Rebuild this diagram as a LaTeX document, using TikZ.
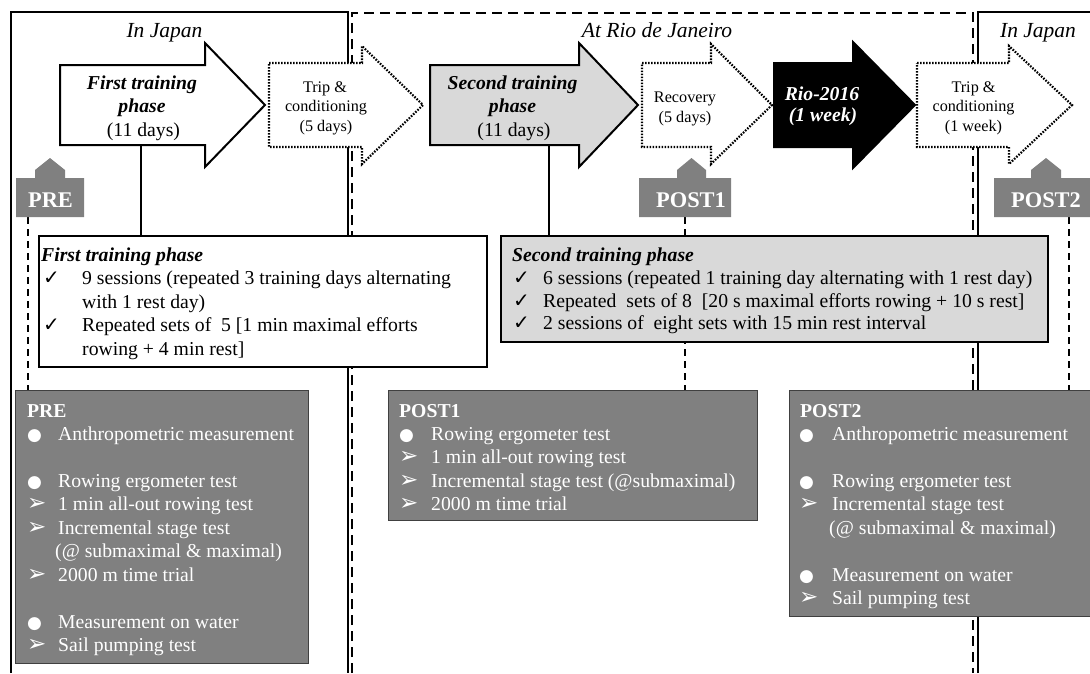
\documentclass[tikz,border=0pt]{standalone}
\usepackage{fontspec}
\setmainfont{Liberation Serif}
\newfontfamily\symfont{DejaVu Sans}
\definecolor{gmid}{HTML}{808080}
\definecolor{glight}{HTML}{D9D9D9}
\definecolor{gdark}{HTML}{404040}
\newcommand\fmain{\fontsize{19.7}{23.5}\selectfont}
\newcommand\fsmall{\fontsize{16.2}{19.5}\selectfont}
\newcommand\fhead{\fontsize{21.5}{25}\selectfont}
\newcommand\fmark{\fontsize{22.4}{25}\selectfont}
\newcommand\chk{{\symfont\fontsize{20}{20}\selectfont ✓}}
\newcommand\dotb{{\symfont\fontsize{17}{17}\selectfont ●}}
\newcommand\arrb{{\symfont\fontsize{23}{23}\selectfont ➢}}
\tikzset{
  frame/.style={line width=2pt},
  dframe/.style={line width=2pt, dash pattern=on 10pt off 6pt},
  conn/.style={line width=1.6pt, dash pattern=on 7pt off 5pt},
  link/.style={line width=1.3pt},
  solidarrow/.style={draw, line width=2pt, line join=miter},
  dotarrow/.style={draw, line width=2.2pt, dash pattern=on 1.6pt off 1.4pt, fill=white},
  wbox/.style={draw, line width=2.2pt, fill=white, inner sep=0pt, outer sep=0pt},
  gbox/.style={draw=gdark, line width=1pt, fill=gmid, inner sep=0pt, outer sep=0pt},
  marker/.style={fill=gmid},
  txt/.style={inner sep=0pt, anchor=base west, font=\fmain},
  gtxt/.style={txt, text=white},
  ctxt/.style={inner sep=0pt, anchor=base, font=\fmain},
  stxt/.style={inner sep=0pt, anchor=base, font=\fsmall},
  htxt/.style={inner sep=0pt, anchor=base, font=\fhead\itshape},
  mtxt/.style={inner sep=0pt, anchor=base, font=\fmark\bfseries, text=white},
}
\begin{document}
\begin{tikzpicture}[x=1pt,y=-1pt]
\useasboundingbox[fill=white] (0,0) rectangle (1090,673);
\begin{scope}
\clip (0,0) rectangle (1090,673);
% frames
\draw[frame] (11,673) -- (11,12) -- (348,12) -- (348,673);
\draw[dframe] (352,673) -- (352,13) -- (973,13) -- (973,673);
\draw[frame] (978,673) -- (978,12) -- (1095,12);
\node[htxt] (hJ1) at (164.5,37) {In Japan};
\node[htxt] (hRio) at (657,37) {At Rio de Janeiro};
\node[htxt] (hJ2) at (1038,37) {In Japan};

% grey boxes (nodes) first so connectors can reference them
\node[gbox, minimum width=293, minimum height=273, anchor=north west] (bPRE) at (15,390) {};
\node[gbox, minimum width=369, minimum height=130, anchor=north west] (bPOST1) at (388,390) {};
\node[gbox, minimum width=320, minimum height=226, anchor=north west] (bPOST2) at (789,390) {};

% dashed connectors from markers to grey boxes
\coordinate (fPRE) at (28,217);
\coordinate (fPOST1) at (685,217);
\coordinate (fPOST2) at (1069,217);
\draw[conn] (fPRE) -- (fPRE |- bPRE.north);
\draw[conn] (fPOST1) -- (fPOST1 |- bPOST1.north);
\draw[conn] (fPOST2) -- (fPOST2 |- bPOST2.north);

% white/grey training boxes
\node[wbox, minimum width=448, minimum height=131, anchor=north west] (box1) at (39,236) {};
\node[wbox, fill=glight, minimum width=547, minimum height=106, anchor=north west] (box2) at (501,236) {};

% solid connectors from arrows to boxes
\coordinate (a1foot) at (141,145);
\coordinate (a2foot) at (549,145);
\draw[link] (a1foot) -- (a1foot |- box1.north);
\draw[link] (a2foot) -- (a2foot |- box2.north);

% block arrows
\draw[solidarrow, fill=white] (60,65) -- (205,65) -- (205,43) -- (265,105) -- (205,167) -- (205,145) -- (60,145) -- cycle;
\draw[dotarrow] (269,63) -- (362,63) -- (362,46) -- (423,105) -- (362,164) -- (362,147) -- (269,147) -- cycle;
\draw[solidarrow, fill=glight] (430,65) -- (579,65) -- (579,43) -- (638,105) -- (579,167) -- (579,145) -- (430,145) -- cycle;
\draw[dotarrow] (642,63) -- (711,63) -- (711,44) -- (772,105) -- (711,164) -- (711,147) -- (642,147) -- cycle;
\draw[solidarrow, fill=black] (774,63) -- (853,63) -- (853,42) -- (915,105) -- (853,168) -- (853,147) -- (774,147) -- cycle;
\draw[dotarrow] (917,63) -- (1009,63) -- (1009,46) -- (1072,105) -- (1009,164) -- (1009,147) -- (917,147) -- cycle;

% arrow texts
\node[ctxt, font=\fmain\bfseries\itshape] (a1l1) at (142,89) {First training};
\node[ctxt, font=\fmain\bfseries\itshape] (a1l2) at (142,112.5) {phase};
\node[ctxt] (a1l3) at (143.5,136) {(11 days)};
\node[stxt] (t1l1) at (325,92) {Trip \&};
\node[stxt] (t1l2) at (326,111.5) {conditioning};
\node[stxt] (t1l3) at (326,131) {(5 days)};
\node[ctxt, font=\fmain\bfseries\itshape] (a2l1) at (512.5,89) {Second training};
\node[ctxt, font=\fmain\bfseries\itshape] (a2l2) at (512.5,112.5) {phase};
\node[ctxt] (a2l3) at (514,136) {(11 days)};
\node[stxt] (rl1) at (685,102) {Recovery};
\node[stxt] (rl2) at (685,122) {(5 days)};
\node[ctxt, font=\fmain\bfseries\itshape, text=white] (riol1) at (822,100) {Rio-2016};
\node[ctxt, font=\fmain\bfseries\itshape, text=white] (riol2) at (823,121.5) {(1 week)};
\node[stxt] (t2l1) at (973.5,92) {Trip \&};
\node[stxt] (t2l2) at (973.5,111.5) {conditioning};
\node[stxt] (t2l3) at (973.5,131) {(1 week)};

% markers
\fill[marker] (16,217) -- (16,178) -- (35,178) -- (35,170) -- (50,158) -- (65,170) -- (65,178) -- (84,178) -- (84,217) -- cycle;
\fill[marker] (639,217) -- (639,178) -- (677,178) -- (677,170) -- (691.5,158) -- (706,170) -- (706,178) -- (731,178) -- (731,217) -- cycle;
\fill[marker] (994,217) -- (994,178) -- (1031,178) -- (1031,170) -- (1046,158) -- (1061,170) -- (1061,178) -- (1095,178) -- (1095,217) -- cycle;
\node[mtxt] (mPRE) at (50.5,207) {PRE};
\node[mtxt] (mPOST1) at (691,207.5) {POST1};
\node[mtxt] (mPOST2) at (1046,207.5) {POST2};

% first training box text
\node[txt, font=\fmain\bfseries\itshape] (b1t) at (41,261) {First training phase};
\node[txt] (b1c1) at (43,284.5) {\chk};
\node[txt] (b1l1) at (82,284.5) {9 sessions (repeated 3 training days alternating};
\node[txt] (b1l2) at (82,308) {with 1 rest day)};
\node[txt] (b1c3) at (43,331.5) {\chk};
\node[txt] (b1l3) at (82,331.5) {Repeated sets of\ \ 5 [1 min maximal efforts};
\node[txt] (b1l4) at (82,355) {rowing + 4 min rest]};

% second training box text
\node[txt, font=\fmain\bfseries\itshape] (b2t) at (512,261) {Second training phase};
\node[txt] (b2c1) at (513,284.5) {\chk};
\node[txt] (b2l1) at (543,284.5) {6 sessions (repeated 1 training day alternating with 1 rest day)};
\node[txt] (b2c2) at (513,307) {\chk};
\node[txt] (b2l2) at (543,307) {Repeated\ \ sets of 8\ \ [20 s maximal efforts rowing + 10 s rest]};
\node[txt] (b2c3) at (513,329.5) {\chk};
\node[txt] (b2l3) at (543,329.5) {2 sessions of\ \ eight sets with 15 min rest interval};

% PRE box text
\node[gtxt, font=\fmain\bfseries] (pt) at (27,417) {PRE};
\node[gtxt] (ps1) at (27,440) {\dotb};
\node[gtxt] (pl1) at (58,440) {Anthropometric measurement};
\node[gtxt] (ps2) at (27,487) {\dotb};
\node[gtxt] (pl2) at (58,487) {Rowing ergometer test};
\node[gtxt] (ps3) at (27,510.5) {\arrb};
\node[gtxt] (pl3) at (58,510.5) {1 min all-out rowing test};
\node[gtxt] (ps4) at (27,534) {\arrb};
\node[gtxt] (pl4) at (58,534) {Incremental stage test};
\node[gtxt] (pl5) at (55,557.5) {(@ submaximal \& maximal)};
\node[gtxt] (ps6) at (27,581) {\arrb};
\node[gtxt] (pl6) at (58,581) {2000 m time trial};
\node[gtxt] (ps7) at (27,628) {\dotb};
\node[gtxt] (pl7) at (58,628) {Measurement on water};
\node[gtxt] (ps8) at (27,651.5) {\arrb};
\node[gtxt] (pl8) at (58,651.5) {Sail pumping test};

% POST1 box text
\node[gtxt, font=\fmain\bfseries] (qt) at (399,417) {POST1};
\node[gtxt] (qs1) at (399,440) {\dotb};
\node[gtxt] (ql1) at (431,440) {Rowing ergometer test};
\node[gtxt] (qs2) at (399,463.5) {\arrb};
\node[gtxt] (ql2) at (431,463.5) {1 min all-out rowing test};
\node[gtxt] (qs3) at (399,487) {\arrb};
\node[gtxt] (ql3) at (431,487) {Incremental stage test (@submaximal)};
\node[gtxt] (qs4) at (399,510.5) {\arrb};
\node[gtxt] (ql4) at (431,510.5) {2000 m time trial};

% POST2 box text
\node[gtxt, font=\fmain\bfseries] (rt) at (800,417) {POST2};
\node[gtxt] (rs1) at (799,440) {\dotb};
\node[gtxt] (rl1b) at (832,440) {Anthropometric measurement};
\node[gtxt] (rs2) at (799,487) {\dotb};
\node[gtxt] (rl2b) at (832,487) {Rowing ergometer test};
\node[gtxt] (rs3) at (799,510.5) {\arrb};
\node[gtxt] (rl3b) at (832,510.5) {Incremental stage test};
\node[gtxt] (rl4b) at (829,534) {(@ submaximal \& maximal)};
\node[gtxt] (rs5) at (799,581) {\dotb};
\node[gtxt] (rl5b) at (832,581) {Measurement on water};
\node[gtxt] (rs6) at (799,604.5) {\arrb};
\node[gtxt] (rl6b) at (832,604.5) {Sail pumping test};
\end{scope}
\end{tikzpicture}
\end{document}
